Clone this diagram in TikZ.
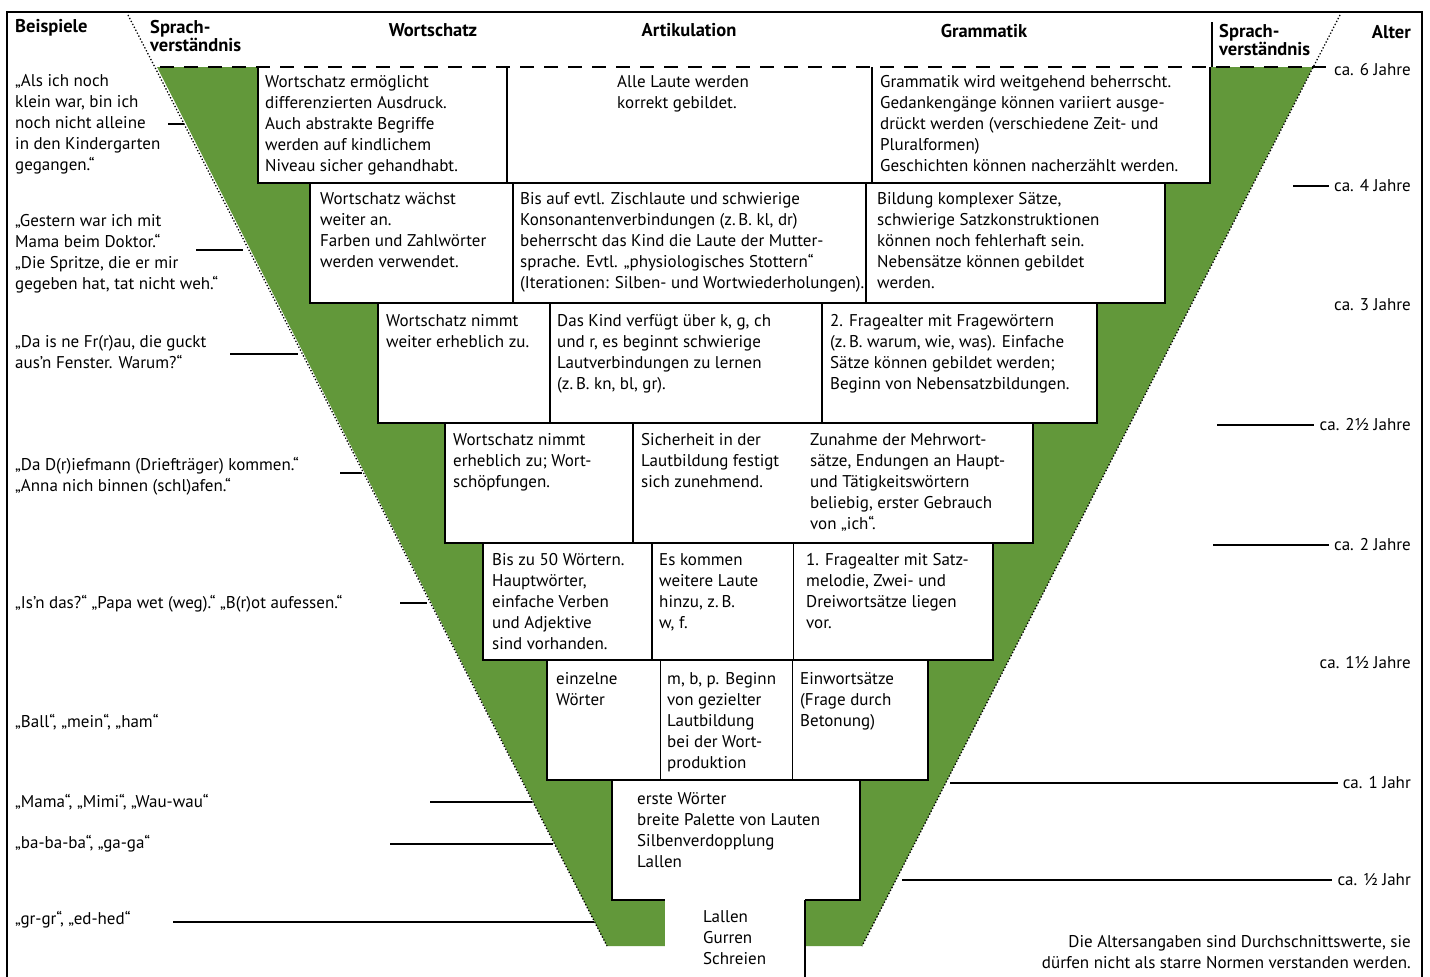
\documentclass[tikz,border=0pt]{standalone}
\usepackage{fontspec}
\setmainfont{PT Sans}
\definecolor{grn}{RGB}{98,152,58}
\newcommand\mybody{\fontsize{17}{21}\selectfont}
\newcommand\myhead{\fontsize{18.5}{18}\selectfont\bfseries}
\begin{document}
\begin{tikzpicture}[x=1pt,y=-1pt,
  cell/.style={anchor=north west, inner sep=0pt, align=left, font=\mybody},
  exm/.style={anchor=north west, inner sep=0pt, align=left, font=\mybody},
  age/.style={anchor=east, inner sep=0pt, font=\mybody},
  hdr/.style={inner sep=0pt, font=\myhead, align=left},
  boxline/.style={draw=black, line width=1.6pt},
  thin/.style={draw=black, line width=0.9pt},
  lnk/.style={line width=1.4pt},
  edge/.style={line width=1.3pt, dotted},
  topdash/.style={line width=2pt, dash pattern=on 14pt off 10pt}]
\useasboundingbox (0,0) rectangle (1430,977);
\fill[white] (0,0) rectangle (1430,977);
% frame
\draw[line width=1.2pt] (7,12) rectangle (1422,1005);
% green trapezoid
\fill[grn] (157,67) -- (1313,67) -- (862,946) -- (607,946) -- cycle;
% row boxes
\fill[white] (258,67) rectangle (1210,183);
\draw[boxline] (258,67) -- (258,183) -- (1210,183) -- (1210,67);
\draw[boxline] (507,67) -- (507,183);
\draw[boxline] (872,67) -- (872,183);
\fill[white] (310,183) rectangle (1165,303);
\draw[boxline] (310,183) rectangle (1165,303);
\draw[boxline] (513,183) -- (513,303);
\draw[boxline] (866,183) -- (866,303);
\fill[white] (378,303) rectangle (1097,423);
\draw[boxline] (378,303) rectangle (1097,423);
\draw[boxline] (550,303) -- (550,423);
\draw[boxline] (822,303) -- (822,423);
\fill[white] (445,423) rectangle (1033,543);
\draw[boxline] (445,423) rectangle (1033,543);
\draw[boxline] (633,423) -- (633,543);
\fill[white] (483,543) rectangle (993,660);
\draw[boxline] (483,543) rectangle (993,660);
\draw[boxline] (652,543) -- (652,660);
\draw[thin] (793,543) -- (793,660);
\fill[white] (547,660) rectangle (928,780);
\draw[boxline] (547,660) rectangle (928,780);
\draw[thin] (660,660) -- (660,780);
\draw[thin] (792,660) -- (792,780);
\fill[white] (612,780) rectangle (860,900);
\draw[boxline] (665,900) -- (612,900) -- (612,780) -- (860,780) -- (860,900) -- (805,900);
\fill[white] (665,900) rectangle (805,1005);
\draw[boxline] (805,900) -- (805,1005);
% diagonals
\draw[edge] (128,15) -- (607,946);
\draw[edge] (1340,15) -- (862,946);
% right header separator
\draw[boxline] (1212,22) -- (1212,67);
% top dashed line
\draw[topdash] (160,67) -- (1327,67);
% headers
\node[hdr, anchor=west] (hb) at (15,28) {Beispiele};
\node[hdr, anchor=north west] (hsl) at (150,20) {Sprach-\\verständnis};
\node[hdr] (hw) at (433,30) {Wortschatz};
\node[hdr] (ha) at (689,30) {Artikulation};
\node[hdr] (hg) at (984,31) {Grammatik};
\node[hdr, anchor=north west] (hsr) at (1219,24) {Sprach-\\verständnis};
\node[hdr, anchor=east] (hal) at (1411,32) {Alter};
% cells
\node[cell] (w1) at (265,75) {Wortschatz ermöglicht\\differenzierten Ausdruck.\\Auch abstrakte Begriffe\\werden auf kindlichem\\Niveau sicher gehandhabt.};
\node[cell] (a1) at (617,75) {Alle Laute werden\\korrekt gebildet.};
\node[cell] (g1) at (880,75) {Grammatik wird weitgehend beherrscht.\\Gedankengänge können variiert ausge-\\drückt werden (verschiedene Zeit- und\\Pluralformen)\\Geschichten können nacherzählt werden.};
\node[cell] (w2) at (320,192) {Wortschatz wächst\\weiter an.\\Farben und Zahlwörter\\werden verwendet.};
\node[cell] (a2) at (520,192) {Bis auf evtl. Zischlaute und schwierige\\Konsonantenverbindungen (z.\,B. kl, dr)\\beherrscht das Kind die Laute der Mutter-\\sprache. Evtl. „physiologisches Stottern“\\(Iterationen: Silben- und Wortwiederholungen).};
\node[cell] (g2) at (877,192) {Bildung komplexer Sätze,\\schwierige Satzkonstruktionen\\können noch fehlerhaft sein.\\Nebensätze können gebildet\\werden.};
\node[cell] (w3) at (386,314) {Wortschatz nimmt\\weiter erheblich zu.};
\node[cell] (a3) at (557,314) {Das Kind verfügt über k, g, ch\\und r, es beginnt schwierige\\Lautverbindungen zu lernen\\(z.\,B. kn, bl, gr).};
\node[cell] (g3) at (830,314) {2. Fragealter mit Fragewörtern\\(z.\,B. warum, wie, was). Einfache\\Sätze können gebildet werden;\\Beginn von Nebensatzbildungen.};
\node[cell] (w4) at (453,433) {Wortschatz nimmt\\erheblich zu; Wort-\\schöpfungen.};
\node[cell] (a4) at (641,433) {Sicherheit in der\\Lautbildung festigt\\sich zunehmend.};
\node[cell] (g4) at (810,433) {Zunahme der Mehrwort-\\sätze, Endungen an Haupt-\\und Tätigkeitswörtern\\beliebig, erster Gebrauch\\von „ich“.};
\node[cell] (w5) at (492,553) {Bis zu 50 Wörtern.\\Hauptwörter,\\einfache Verben\\und Adjektive\\sind vorhanden.};
\node[cell] (a5) at (659,553) {Es kommen\\weitere Laute\\hinzu, z.\,B.\\w, f.};
\node[cell] (g5) at (806,553) {1. Fragealter mit Satz-\\melodie, Zwei- und\\Dreiwortsätze liegen\\vor.};
\node[cell] (w6) at (556,672) {einzelne\\Wörter};
\node[cell] (a6) at (667,672) {m, b, p. Beginn\\von gezielter\\Lautbildung\\bei der Wort-\\produktion};
\node[cell] (g6) at (800,672) {Einwortsätze\\(Frage durch\\Betonung)};
\node[cell] (c7) at (637,792) {erste Wörter\\breite Palette von Lauten\\Silbenverdopplung\\Lallen};
\node[cell] (c8) at (703,910) {Lallen\\Gurren\\Schreien};
% examples
\node[exm] (e1) at (15,74) {„Als ich noch\\klein war, bin ich\\noch nicht alleine\\in den Kindergarten\\gegangen.“};
\node[exm] (e2) at (15,214) {„Gestern war ich mit\\Mama beim Doktor.“\\„Die Spritze, die er mir\\gegeben hat, tat nicht weh.“};
\node[exm] (e3) at (15,335) {„Da is ne Fr(r)au, die guckt\\aus’n Fenster. Warum?“};
\node[exm] (e4) at (15,457) {„Da D(r)iefmann (Driefträger) kommen.“\\„Anna nich binnen (schl)afen.“};
\node[exm] (e5) at (15,595) {„Is’n das?“ „Papa wet (weg).“ „B(r)ot aufessen.“};
\node[exm] (e6) at (15,714) {„Ball“, „mein“, „ham“};
\node[exm] (e7) at (15,794) {„Mama“, „Mimi“, „Wau-wau“};
\node[exm] (e8) at (15,835) {„ba-ba-ba“, „ga-ga“};
\node[exm] (e9) at (15,911) {„gr-gr“, „ed-hed“};
\coordinate (e1a) at (168,124); \coordinate (e1b) at (184,124);
\coordinate (e2a) at (196,250); \coordinate (e2b) at (243,250);
\coordinate (e3a) at (230,354); \coordinate (e3b) at (298,354);
\coordinate (e4a) at (340,473); \coordinate (e4b) at (362,473);
\coordinate (e5a) at (400,603); \coordinate (e5b) at (427,603);
\coordinate (e7a) at (430,802); \coordinate (e7b) at (532,802);
\coordinate (e8a) at (390,844); \coordinate (e8b) at (553,844);
\coordinate (e9a) at (173,922); \coordinate (e9b) at (594,922);
\foreach \i in {1,2,3,4,5,7,8,9} {\draw[lnk] (e\i a) -- (e\i b);}
% ages
\node[age] (y6) at (1411,70) {ca. 6 Jahre};
\node[age] (y4) at (1411,186) {ca. 4 Jahre};
\node[age] (y3) at (1411,305) {ca. 3 Jahre};
\node[age] (y25) at (1411,425) {ca. 2½ Jahre};
\node[age] (y2) at (1411,545) {ca. 2 Jahre};
\node[age] (y15) at (1411,663) {ca. 1½ Jahre};
\node[age] (y1) at (1411,783) {ca. 1 Jahr};
\node[age] (y05) at (1411,880) {ca. ½ Jahr};
\coordinate (g4s) at (1293,186);
\coordinate (g25s) at (1217,425);
\coordinate (g2s) at (1213,545);
\coordinate (g1s) at (950,783);
\coordinate (g05s) at (902,880);
\draw[lnk, shorten >=5pt] (g4s) -- (g4s -| y4.west);
\draw[lnk, shorten >=5pt] (g25s) -- (g25s -| y25.west);
\draw[lnk, shorten >=5pt] (g2s) -- (g2s -| y2.west);
\draw[lnk, shorten >=5pt] (g1s) -- (g1s -| y1.west);
\draw[lnk, shorten >=5pt] (g05s) -- (g05s -| y05.west);
% footnote
\node[anchor=north east, inner sep=0pt, align=right, font=\mybody] (fn) at (1411,935) {Die Altersangaben sind Durchschnittswerte, sie\\dürfen nicht als starre Normen verstanden werden.};
\end{tikzpicture}
\end{document}
